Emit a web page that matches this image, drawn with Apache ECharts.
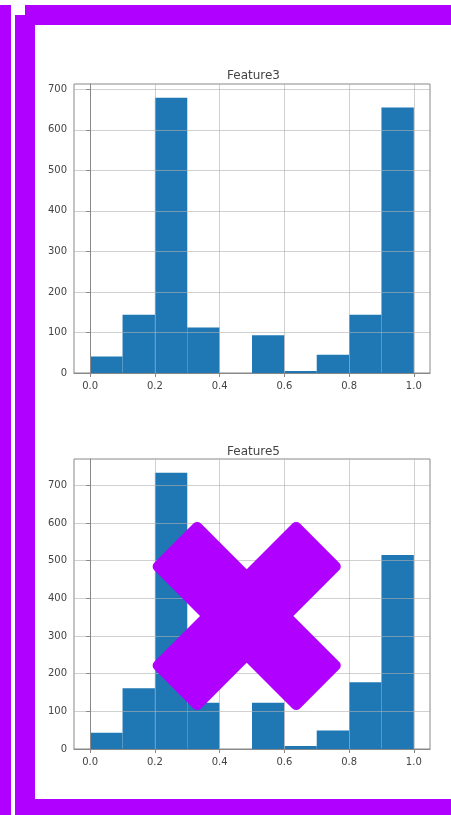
<!DOCTYPE html>
<html>
<head>
<meta charset="utf-8">
<script src="https://cdn.jsdelivr.net/npm/echarts@6/dist/echarts.min.js"></script>
<style>
html,body{margin:0;padding:0;background:#ffffff;}
#chart{width:451px;height:815px;}
</style>
</head>
<body>
<div id="chart"></div>
<script>
// ---- data ----
const binEdges = [0.0, 0.1, 0.2, 0.3, 0.4, 0.5, 0.6, 0.7, 0.8, 0.9, 1.0];
const feature3Counts = [41, 144, 679, 112, 0, 93, 5, 45, 144, 655];
const feature5Counts = [43, 161, 733, 123, 0, 123, 8, 49, 177, 515];
const titles = ['Feature3', 'Feature5'];
const xTickValues = [0.0, 0.2, 0.4, 0.6, 0.8, 1.0];
const yTickValues = [0, 100, 200, 300, 400, 500, 600, 700];

function histData(counts) {
  const out = [];
  for (let i = 0; i < counts.length; i++) {
    out.push([binEdges[i], binEdges[i + 1], counts[i]]);
  }
  return out;
}

function renderBin(params, api) {
  const p0 = api.coord([api.value(0), api.value(2)]);
  const p1 = api.coord([api.value(1), 0]);
  return {
    type: 'rect',
    shape: { x: p0[0], y: p0[1], width: p1[0] - p0[0], height: p1[1] - p0[1] },
    style: { fill: '#1f77b4' }
  };
}

const FONT = 'DejaVu Sans';
const TXT = '#444';
const SPINE = '#888';

function xAxisCfg(gi) {
  return {
    type: 'value', gridIndex: gi, min: -0.05, max: 1.05, z: 3,
    axisLine: { show: true, onZero: false, lineStyle: { color: SPINE, width: 1 } },
    axisTick: { show: true, length: 4, customValues: xTickValues, lineStyle: { color: SPINE } },
    axisLabel: { customValues: xTickValues, margin: 8, fontFamily: FONT, fontSize: 10, color: TXT,
      formatter: v => Number(v).toFixed(1) },
    splitLine: { show: true, lineStyle: { color: 'rgba(176,176,176,0.6)', width: 1 } }
  };
}
function yAxisCfg(gi, maxV) {
  return {
    type: 'value', gridIndex: gi, min: 0, max: maxV, splitNumber: 7, z: 3,
    axisLine: { show: true, lineStyle: { color: SPINE, width: 1 } },
    axisTick: { show: true, length: 4, customValues: yTickValues, lineStyle: { color: SPINE } },
    axisLabel: { customValues: yTickValues, margin: 7, fontFamily: FONT, fontSize: 10, color: TXT },
    splitLine: { show: true, lineStyle: { color: 'rgba(176,176,176,0.6)', width: 1 } }
  };
}

const PURPLE = '#b000ff';
const chart = echarts.init(document.getElementById('chart'), null, { renderer: 'canvas' });
chart.setOption({
  animation: false,
  backgroundColor: '#ffffff',
  title: [
    { text: titles[0], left: 222, top: 65, textStyle: { fontFamily: FONT, fontSize: 12, fontWeight: 'normal', color: TXT } },
    { text: titles[1], left: 222, top: 441, textStyle: { fontFamily: FONT, fontSize: 12, fontWeight: 'normal', color: TXT } }
  ],
  grid: [
    { left: 74, top: 84, width: 356, height: 289, show: true, borderColor: SPINE, borderWidth: 1, backgroundColor: 'transparent' },
    { left: 74, top: 459, width: 356, height: 290, show: true, borderColor: SPINE, borderWidth: 1, backgroundColor: 'transparent' }
  ],
  xAxis: [xAxisCfg(0), xAxisCfg(1)],
  yAxis: [yAxisCfg(0, 713), yAxisCfg(1, 769.6)],
  series: [
    { type: 'custom', name: titles[0], xAxisIndex: 0, yAxisIndex: 0, renderItem: renderBin,
      encode: { x: [0, 1], y: 2 }, data: histData(feature3Counts), z: 2 },
    { type: 'custom', name: titles[1], xAxisIndex: 1, yAxisIndex: 1, renderItem: renderBin,
      encode: { x: [0, 1], y: 2 }, data: histData(feature5Counts), z: 2 }
  ],
  graphic: [
    { type: 'rect', z: 100, shape: { x: 0, y: 5, width: 11, height: 810 }, style: { fill: PURPLE } },
    { type: 'rect', z: 100, shape: { x: 15, y: 15, width: 20, height: 800 }, style: { fill: PURPLE } },
    { type: 'rect', z: 100, shape: { x: 25, y: 5, width: 426, height: 20 }, style: { fill: PURPLE } },
    { type: 'rect', z: 100, shape: { x: 15, y: 799, width: 436, height: 16 }, style: { fill: PURPLE } },
    { type: 'rect', z: 100, x: 246.7, y: 616, rotation: Math.PI / 4,
      shape: { x: -103, y: -33, width: 206, height: 66, r: 5 }, style: { fill: PURPLE } },
    { type: 'rect', z: 100, x: 246.7, y: 616, rotation: -Math.PI / 4,
      shape: { x: -103, y: -33, width: 206, height: 66, r: 5 }, style: { fill: PURPLE } }
  ]
});
</script>
</body>
</html>
